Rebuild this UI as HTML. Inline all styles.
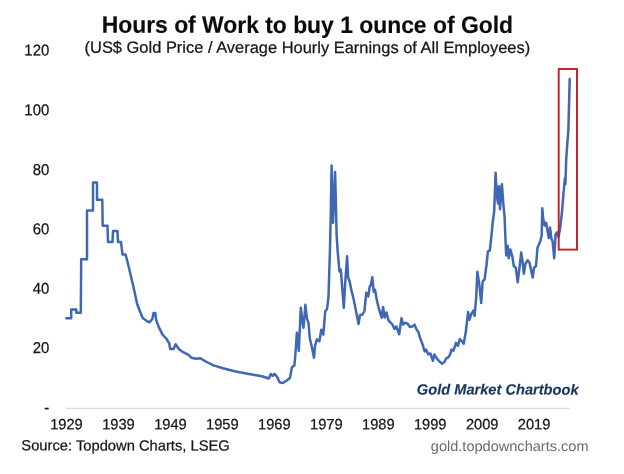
<!DOCTYPE html>
<html><head><meta charset="utf-8"><title>Hours of Work to buy 1 ounce of Gold</title>
<style>
html,body{margin:0;padding:0;background:#fff;}
body{width:624px;height:474px;overflow:hidden;position:relative;}
svg{position:absolute;left:0;top:0;display:block;}
text{font-family:"Liberation Sans",sans-serif;text-rendering:geometricPrecision;fill:#161616;stroke:#161616;stroke-width:0.25px;}
.title{font-weight:bold;fill:#0a0a0a;stroke:#0a0a0a;stroke-width:0.15px;}
.url{fill:#6b6b6b;stroke:none;}
.brand{font-weight:bold;font-style:italic;fill:#17365d;stroke:#17365d;stroke-width:0.15px;}
</style></head><body>
<svg width="624" height="474" viewBox="0 0 624 474">
<line class="ax" x1="65.4" y1="408.2" x2="570" y2="408.2" stroke="#d2d2d2" stroke-width="1.15"/>
<polyline class="ln" fill="none" stroke="#3f67b4" stroke-width="2.5" stroke-linejoin="round" stroke-linecap="round" points="66.2,318.3 71.2,318.3 71.2,309.6 76.3,309.6 76.3,312.7 80.8,312.7 81.2,259.3 87,259.3 87,210.4 93,210.4 93,182.5 97,182.5 97,199.8 102.3,199.8 102.7,225.8 107.5,225.8 108,242 112.5,242 113,231 117.5,231 118,242 121,242 122.5,254.6 125.5,254.6 126.3,257.3 129.2,268.8 131.5,278.5 134.6,292 137,303.5 139.8,311 142.7,317.9 146.5,320.8 149.4,322.3 152.3,319.2 153.5,313 155.2,313 156.2,320.2 158.7,326.9 162.5,334.6 166.3,338.5 169.2,343.3 170.2,349 173.5,349 175.6,344.2 178.8,349 182.7,351.9 188.5,354.8 191.3,357.7 196.2,358.7 200.4,358.3 205.8,361.5 213.5,365.4 223,368.3 234.6,371.2 246.2,373.5 257.7,375.6 262.7,376.5 268.8,378.5 270.8,374 272.7,376 274.6,373.7 277.1,376.9 279.6,382.3 282.9,383.1 286.7,380.4 290,377.9 291.9,367.3 294.4,365.4 295.4,353.8 296.9,332.7 298.8,351 300.8,307.7 302.1,319.2 303.5,327.9 305.4,304.8 306.9,318.3 308.5,323 309.8,338.5 311.7,346.2 314,357.7 315,346.2 316.9,339.4 319.4,341.3 321.3,329.8 323.3,334.6 325.2,311.5 327.1,308.7 328.5,296.5 329.2,273.5 329.8,256 330.8,212.7 331.6,165.6 333,222.8 335.1,172 335.9,203 336.6,235 337.6,250.4 339.4,271.5 340.8,269.6 342.3,288.8 343.8,308 345.2,283 347.1,256.2 348.1,277.3 349.6,281.2 351.5,290.8 353.5,298.5 355.8,310 358.5,324 360,315 362.5,314.5 364.4,311 366.3,292.7 368.3,296.5 369.6,287 370.8,285 372.3,277.3 373.7,291.7 375,289.8 376.9,300.4 378.5,307 380.4,313.8 381.7,317.7 383.1,307 384.6,317.5 386.5,312.5 388.5,320.5 390.5,322.5 392.4,324.5 394.4,329 396.3,326.5 399.2,334.2 401.5,318.3 403.1,324.5 405,322.7 407.9,324 409.8,326.9 412.3,326.5 414.6,324.6 416.5,329.4 418.5,332.3 420.4,339 422.7,344.8 424.6,351.5 426.2,349.6 428.1,354.4 430.4,353.5 432.9,360.8 434.4,354.4 436.7,358.3 439.2,361.2 441.9,363.7 444.4,362 446.3,358.3 448.3,357.3 450.2,354.4 451.5,349.6 453.5,350.6 456,342.9 457.9,345.8 459.8,339 461.7,341 463.7,343.8 465.6,333.3 466.9,322.7 468.1,312 469.4,319.8 471.3,314 473.8,310.2 474.6,316 476.2,297.7 477.3,271.7 479.2,283.3 481.2,303 482.7,281.3 484.6,279.4 486.5,265 487.9,251.5 489.8,250.6 491.7,233.3 492.7,222.7 494.2,211.2 495.6,172.7 496.9,195.8 498.1,203.5 499,186.2 500,209.2 501.9,184.2 503.3,203.5 504.6,217 505.2,233.3 506.2,255.4 507.7,245.8 508.7,258.3 510.4,249.6 512.3,256.3 513.8,266 515.8,267.9 517.7,282.3 519.6,266.9 521.2,252.5 522.5,261.2 523.8,273.7 525.4,264 527.7,260.2 529.6,263 531.2,270.8 532.7,277.5 534,267.9 536,266 537.5,247.7 538.8,244.8 540.4,241 541.7,235.2 542.3,208.3 543.1,217.9 543.7,220.8 544.6,225.6 546.2,222.7 547.5,231 548.8,238 550,227.5 551.3,238 552.7,242 554.2,258.3 555.6,234.2 557.1,232.3 558.5,237 560,229 561.9,213 563.8,190 564.8,178.5 565.4,184.2 566.2,159.2 567.3,143.8 568.4,129.5 569.7,79.1"/>
<rect class="bx" x="558.7" y="69" width="18.3" height="180.6" fill="none" stroke="#c41d24" stroke-width="1.9"/>
<text class="title" text-anchor="middle" font-size="23.749" transform="translate(307.34,32.94) scale(0.9636,1) rotate(0.05)">Hours of Work to buy 1 ounce of Gold</text>
<text class="sub" text-anchor="middle" font-size="16.195" transform="translate(307.37,52.93) scale(1.0157,1) rotate(0.05)">(US$ Gold Price / Average Hourly Earnings of All Employees)</text>
<text class="yl" text-anchor="end" font-size="15.750" transform="translate(49.23,55.44) scale(0.9460,1) rotate(0.05)">120</text>
<text class="yl" text-anchor="end" font-size="15.750" transform="translate(49.23,115.24) scale(0.9460,1) rotate(0.05)">100</text>
<text class="yl" text-anchor="end" font-size="15.750" transform="translate(49.23,175.04) scale(0.9460,1) rotate(0.05)">80</text>
<text class="yl" text-anchor="end" font-size="15.750" transform="translate(49.23,234.34) scale(0.9460,1) rotate(0.05)">60</text>
<text class="yl" text-anchor="end" font-size="15.750" transform="translate(49.23,293.74) scale(0.9460,1) rotate(0.05)">40</text>
<text class="yl" text-anchor="end" font-size="15.750" transform="translate(49.23,353.04) scale(0.9460,1) rotate(0.05)">20</text>
<text class="yl" text-anchor="end" font-size="15.750" transform="translate(49.23,412.84) scale(0.9460,1) rotate(0.05)">-</text>
<text class="xl" text-anchor="middle" font-size="14.911" transform="translate(66.48,429.35) scale(0.9802,1) rotate(0.05)">1929</text>
<text class="xl" text-anchor="middle" font-size="14.911" transform="translate(118.44,429.35) scale(0.9802,1) rotate(0.05)">1939</text>
<text class="xl" text-anchor="middle" font-size="14.911" transform="translate(170.41,429.35) scale(0.9802,1) rotate(0.05)">1949</text>
<text class="xl" text-anchor="middle" font-size="14.911" transform="translate(222.37,429.35) scale(0.9802,1) rotate(0.05)">1959</text>
<text class="xl" text-anchor="middle" font-size="14.911" transform="translate(274.32,429.35) scale(0.9802,1) rotate(0.05)">1969</text>
<text class="xl" text-anchor="middle" font-size="14.911" transform="translate(326.29,429.35) scale(0.9802,1) rotate(0.05)">1979</text>
<text class="xl" text-anchor="middle" font-size="14.911" transform="translate(378.25,429.35) scale(0.9802,1) rotate(0.05)">1989</text>
<text class="xl" text-anchor="middle" font-size="14.911" transform="translate(430.21,429.35) scale(0.9802,1) rotate(0.05)">1999</text>
<text class="xl" text-anchor="middle" font-size="14.911" transform="translate(482.17,429.35) scale(0.9802,1) rotate(0.05)">2009</text>
<text class="xl" text-anchor="middle" font-size="14.911" transform="translate(534.12,429.35) scale(0.9802,1) rotate(0.05)">2019</text>
<text class="brand" text-anchor="start" font-size="14.826" transform="translate(416.84,394.51) scale(0.9872,1) rotate(0.05)">Gold Market Chartbook</text>
<text class="src" text-anchor="start" font-size="14.636" transform="translate(21.34,450.34) scale(1.0069,1) rotate(0.05)">Source: Topdown Charts, LSEG</text>
<text class="url" text-anchor="start" font-size="14.352" transform="translate(430.82,450.91) scale(1.0142,1) rotate(0.05)">gold.topdowncharts.com</text>
</svg>
</body></html>
